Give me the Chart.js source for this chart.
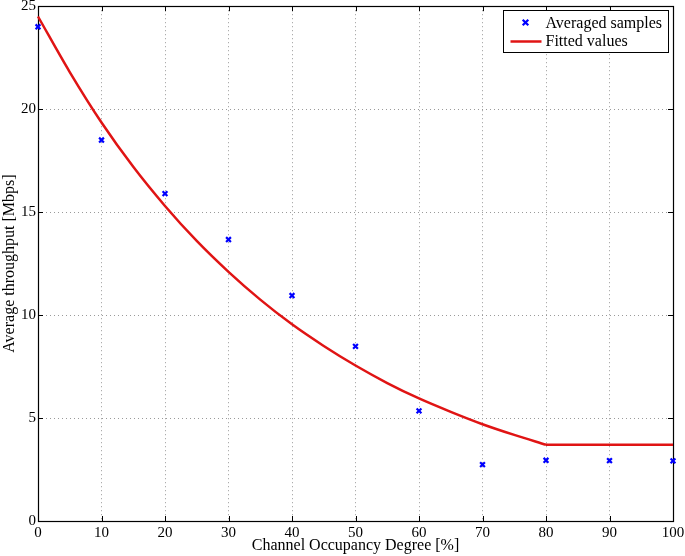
<!DOCTYPE html>
<html>
<head>
<meta charset="utf-8">
<script src="https://cdn.jsdelivr.net/npm/chart.js@4"></script>
<style>
html,body{margin:0;padding:0;background:#fff;}
#wrap{width:685px;height:556px;}
</style>
</head>
<body>
<div id="wrap"><canvas id="c" width="685" height="556"></canvas></div>
<script>
// Data
const sampleX = [0, 10, 20, 30, 40, 50, 60, 70, 80, 90, 100];
const sampleY = [24.0, 18.5, 15.9, 13.67, 10.95, 8.48, 5.35, 2.74, 2.95, 2.93, 2.92];
const fitX = [0, 5, 10, 15, 20, 25, 30, 35, 40, 45, 50, 55, 60, 65, 70, 75, 80];
const fitY = [24.5, 21.8, 19.35, 17.2, 15.3, 13.6, 12.1, 10.75, 9.55, 8.5, 7.55, 6.7, 5.95, 5.3, 4.7, 4.18, 3.7];
const plateauX = [80, 100];
const plateauY = [3.7, 3.7];
const xTicks = [0, 10, 20, 30, 40, 50, 60, 70, 80, 90, 100];
const yTicks = [0, 5, 10, 15, 20, 25];
const seriesNames = ['Averaged samples', 'Fitted values'];
const xTitle = 'Channel Occupancy Degree [%]';
const yTitle = 'Average throughput [Mbps]';

const FONT = '"Liberation Serif", "DejaVu Serif", serif';
const BLUE = '#0000ff';
const RED = '#e01414';

const boxPlugin = {
  id: 'box',
  beforeDatasetsDraw(chart) {
    const {ctx, chartArea: a, scales} = chart;
    ctx.save();
    ctx.strokeStyle = '#000';
    ctx.lineWidth = 1;
    ctx.beginPath();
    const tl = 5;
    xTicks.forEach(v => {
      const px = Math.round(scales.x.getPixelForValue(v)) + 0.5;
      ctx.moveTo(px, a.bottom); ctx.lineTo(px, a.bottom - tl);
      ctx.moveTo(px, a.top); ctx.lineTo(px, a.top + tl);
    });
    yTicks.forEach(v => {
      const py = Math.round(scales.y.getPixelForValue(v)) + 0.5;
      ctx.moveTo(a.left, py); ctx.lineTo(a.left + tl, py);
      ctx.moveTo(a.right, py); ctx.lineTo(a.right - tl, py);
    });
    ctx.stroke();
    ctx.lineWidth = 1.2;
    ctx.strokeRect(Math.round(a.left) + 0.5, Math.round(a.top) + 0.5,
                   Math.round(a.right - a.left), Math.round(a.bottom - a.top));
    ctx.restore();
  },
  afterDraw(chart) {
    const {ctx} = chart;
    ctx.save();
    const bx = 503.5, by = 10.5, bw = 165, bh = 42;
    ctx.fillStyle = '#fff';
    ctx.fillRect(bx, by, bw, bh);
    ctx.strokeStyle = '#000';
    ctx.lineWidth = 1;
    ctx.strokeRect(bx, by, bw, bh);
    const mx = 525.5, my1 = 22.5, my2 = 41.5, s = 2.8;
    ctx.strokeStyle = BLUE;
    ctx.lineWidth = 2.2;
    ctx.beginPath();
    ctx.moveTo(mx - s, my1 - s); ctx.lineTo(mx + s, my1 + s);
    ctx.moveTo(mx - s, my1 + s); ctx.lineTo(mx + s, my1 - s);
    ctx.stroke();
    ctx.strokeStyle = RED;
    ctx.lineWidth = 2.5;
    ctx.beginPath();
    ctx.moveTo(510.5, my2); ctx.lineTo(541.5, my2);
    ctx.stroke();
    ctx.fillStyle = '#000';
    ctx.font = '16px ' + FONT;
    ctx.textBaseline = 'middle';
    ctx.textAlign = 'left';
    ctx.fillText(seriesNames[0], 545.5, my1 + 1);
    ctx.fillText(seriesNames[1], 545.5, my2 + 0.5);
    ctx.restore();
  }
};

const lineStyle = {
  showLine: true,
  pointRadius: 0,
  borderColor: RED,
  borderWidth: 2.5,
  fill: false,
  clip: false
};

new Chart(document.getElementById('c'), {
  type: 'scatter',
  data: {
    datasets: [
      {
        label: seriesNames[0],
        data: sampleX.map((x, i) => ({x, y: sampleY[i]})),
        pointStyle: 'crossRot',
        pointRadius: 3.4,
        pointBorderWidth: 2.2,
        borderColor: BLUE,
        backgroundColor: BLUE,
        showLine: false,
        clip: false
      },
      Object.assign({
        label: seriesNames[1],
        data: fitX.map((x, i) => ({x, y: fitY[i]})),
        cubicInterpolationMode: 'monotone'
      }, lineStyle),
      Object.assign({
        label: seriesNames[1] + ' (plateau)',
        data: plateauX.map((x, i) => ({x, y: plateauY[i]})),
        tension: 0
      }, lineStyle)
    ]
  },
  plugins: [boxPlugin],
  options: {
    responsive: false,
    animation: false,
    events: [],
    layout: {padding: {left: 0, top: 5, right: 12, bottom: 0}},
    plugins: {legend: {display: false}, tooltip: {enabled: false}},
    scales: {
      x: {
        type: 'linear', min: 0, max: 100,
        afterBuildTicks: s => { s.ticks = xTicks.map(v => ({value: v})); },
        afterFit: s => { s.height = 35; s.paddingLeft = 0; s.paddingRight = 0; },
        grid: {color: '#9a9a9a', lineWidth: 1, drawTicks: false},
        border: {display: false, dash: [1, 3]},
        ticks: {color: '#000', padding: 3, maxRotation: 0, font: {family: FONT, size: 15}},
        title: {display: true, text: xTitle, color: '#000', padding: {top: 0, bottom: 1}, font: {family: FONT, size: 16}}
      },
      y: {
        type: 'linear', min: 0, max: 25,
        afterBuildTicks: s => { s.ticks = yTicks.map(v => ({value: v})); },
        afterFit: s => { s.width = 38; s.paddingTop = 0; s.paddingBottom = 0; },
        grid: {color: '#9a9a9a', lineWidth: 1, drawTicks: false},
        border: {display: false, dash: [1, 3]},
        ticks: {color: '#000', padding: 2, font: {family: FONT, size: 15}},
        title: {display: true, text: yTitle, color: '#000', padding: {top: 0, bottom: 0}, font: {family: FONT, size: 16}}
      }
    }
  }
});
</script>
</body>
</html>
